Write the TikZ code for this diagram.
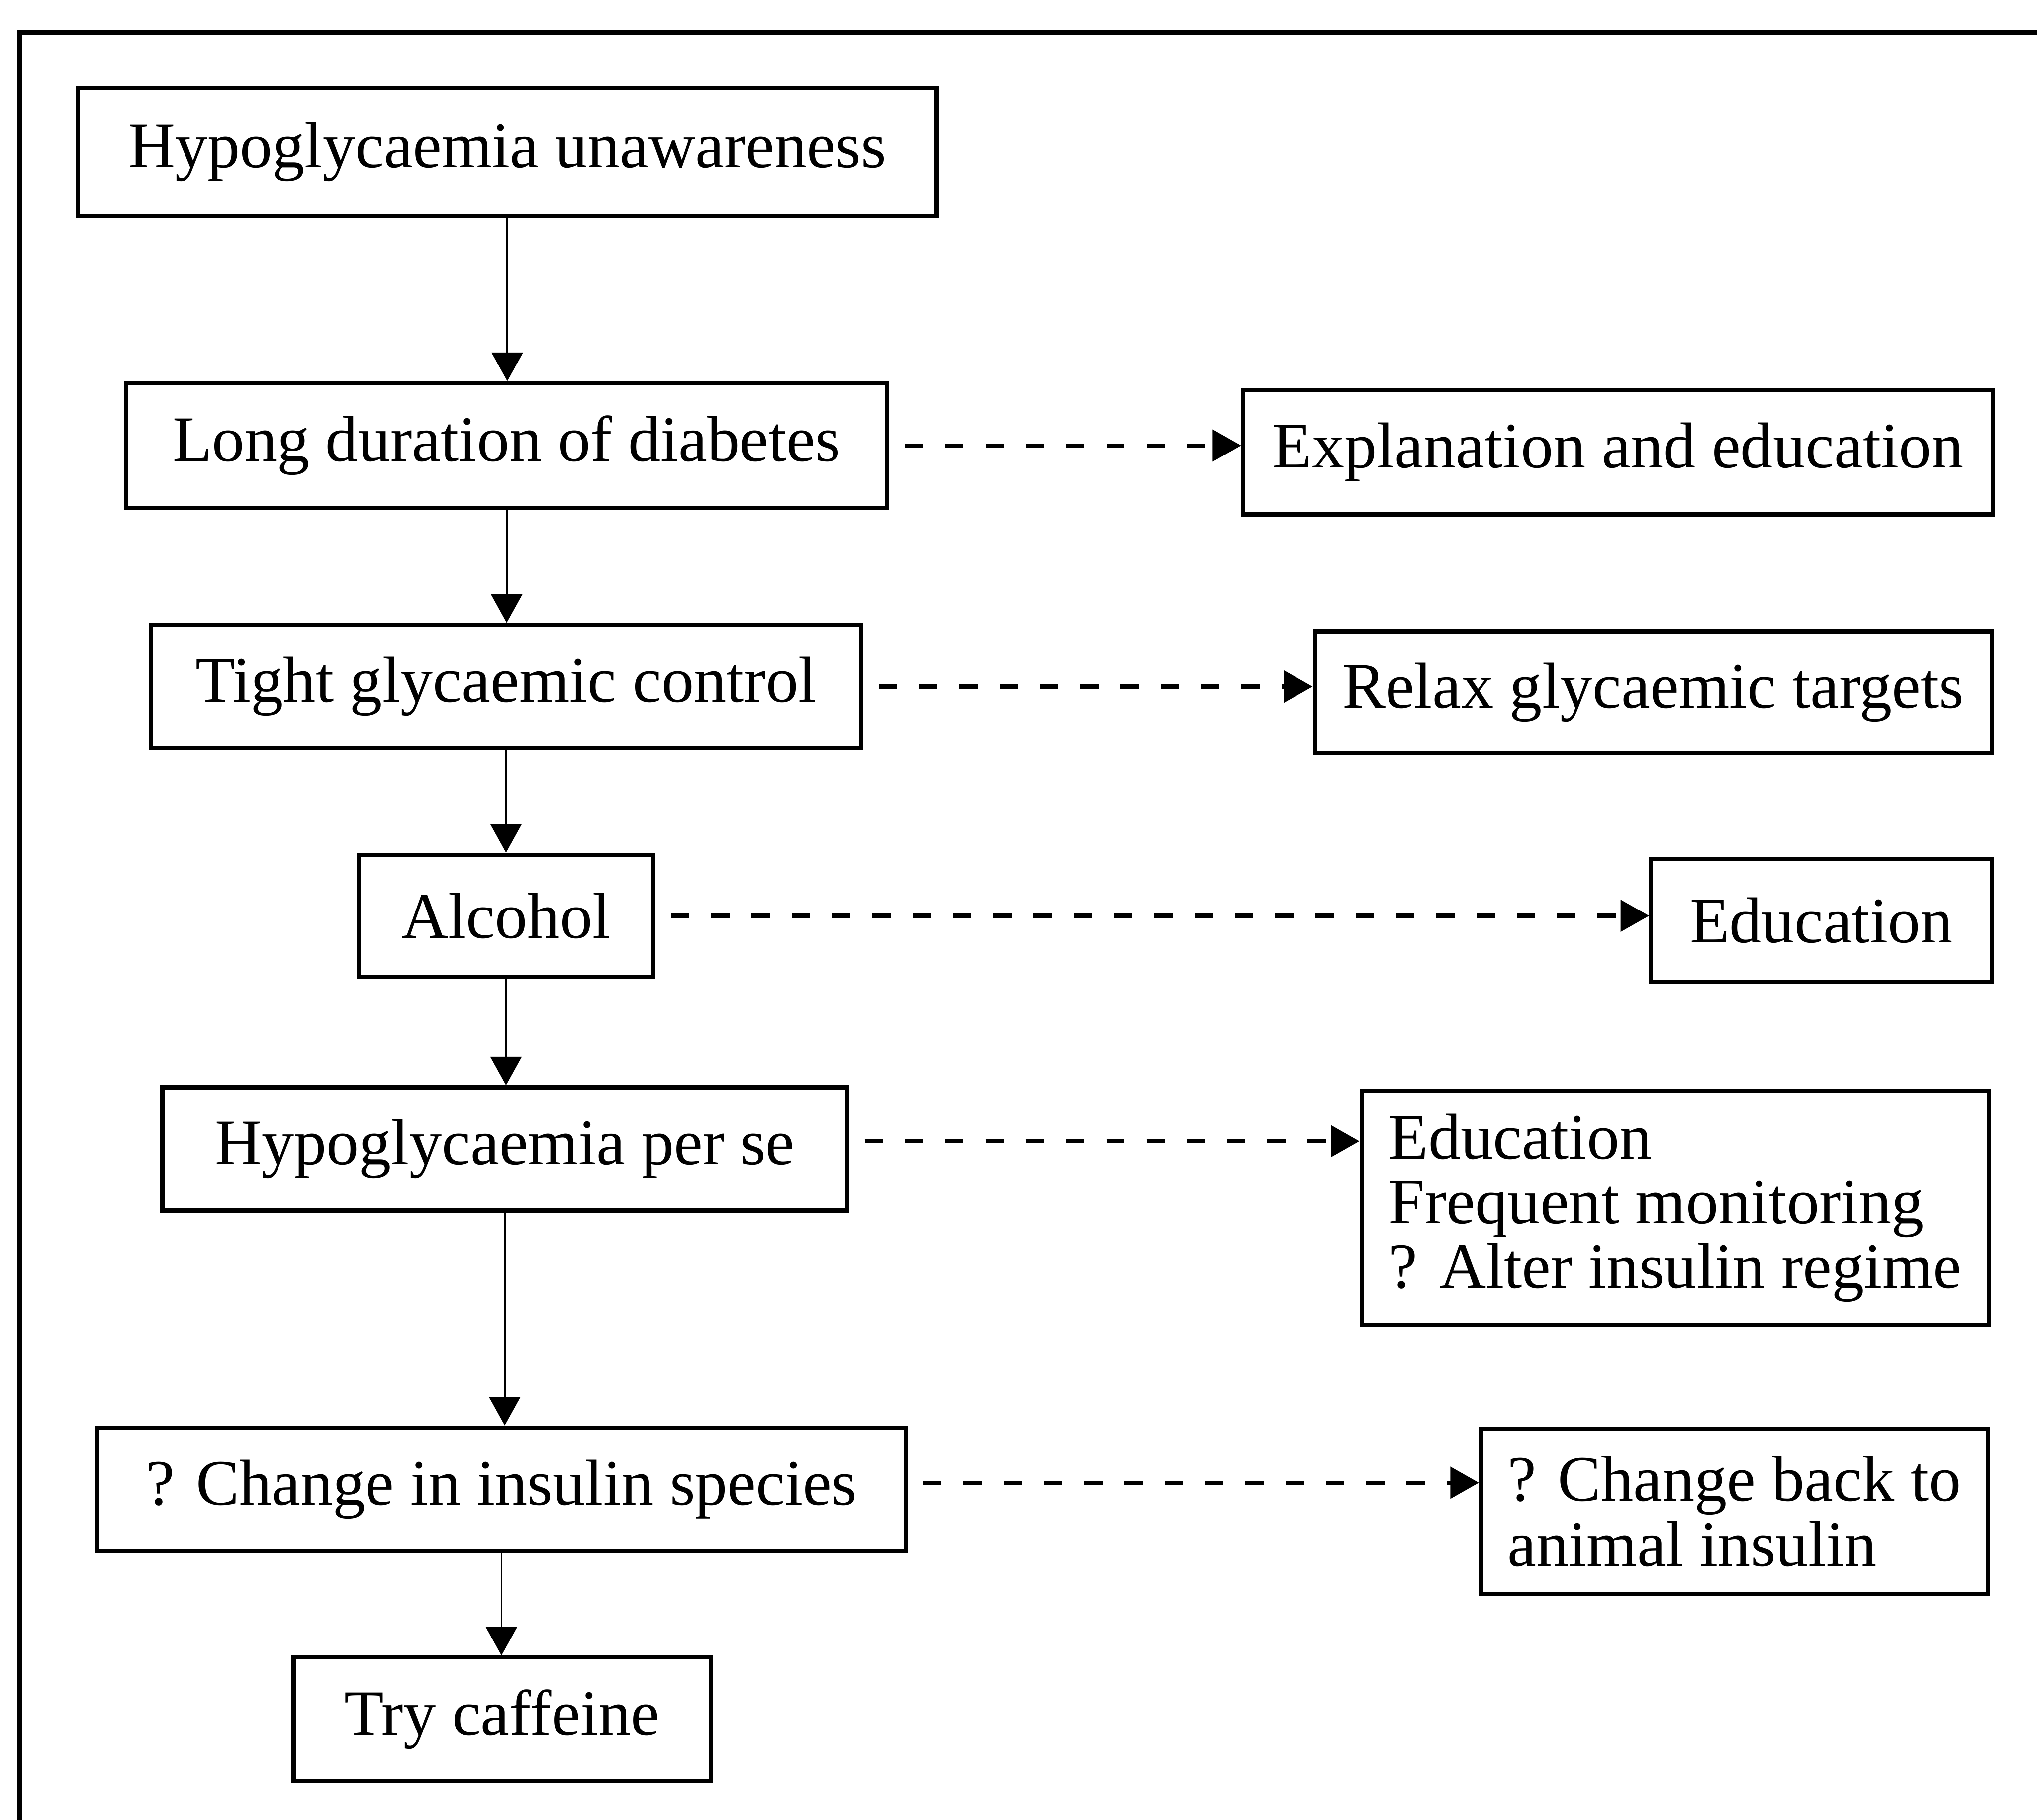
\documentclass[tikz,border=0pt]{standalone}
\usepackage{fontspec}
\setmainfont{Liberation Serif}
\usetikzlibrary{arrows.meta}
\begin{document}
\begin{tikzpicture}[
  x=1cm, y=1cm,
  every node/.style={font=\fontsize{14.2pt}{14.2pt}\selectfont},
  box/.style={draw, line width=0.9pt, inner sep=0pt, align=center},
  flow/.style={line width=0.4pt, -{Triangle[length=0.22cm, width=0.24cm]}},
  remedy/.style={line width=0.9pt, dash pattern=on 0.14cm off 0.17cm,
    shorten <=0.12cm, -{Triangle[length=0.22cm, width=0.24cm]}}
]
\useasboundingbox (0,0) rectangle (15.68,-14.01);

% outer frame (top and left edges)
\draw[line width=1.2pt] (0.15,-14.01) -- (0.15,-0.25) -- (15.68,-0.25);

% causes (left column)
\node[box, minimum width=6.61cm, minimum height=0.99cm] (unaware) at (3.905,-1.17) {Hypoglycaemia unawareness};
\node[box, minimum width=5.86cm, minimum height=0.96cm] (duration) at (3.90,-3.43) {Long duration of diabetes};
\node[box, minimum width=5.47cm, minimum height=0.95cm] (tight) at (3.895,-5.285) {Tight glycaemic control};
\node[box, minimum width=2.27cm, minimum height=0.94cm] (alcohol) at (3.895,-7.05) {Alcohol};
\node[box, minimum width=5.27cm, minimum height=0.95cm] (perse) at (3.885,-8.845) {Hypoglycaemia per se};
\node[box, minimum width=6.22cm, minimum height=0.95cm] (species) at (3.86,-11.465) {? Change in insulin species};
\node[box, minimum width=3.21cm, minimum height=0.95cm] (caffeine) at (3.865,-13.235) {Try caffeine};

% remedies (right column)
\node[box, minimum width=5.77cm, minimum height=0.96cm] (explain) at (12.455,-3.48) {Explanation and education};
\node[box, minimum width=5.21cm, minimum height=0.94cm] (relax) at (12.725,-5.33) {Relax glycaemic targets};
\node[box, minimum width=2.62cm, minimum height=0.95cm] (educ) at (14.02,-7.085) {Education};
\node[box, align=left, minimum width=4.83cm, minimum height=1.80cm] (monitor) at (12.895,-9.30) {Education\\Frequent monitoring\\? Alter insulin regime};
\node[box, align=left, minimum width=3.90cm, minimum height=1.27cm] (animal) at (13.35,-11.635) {? Change back to\\animal insulin};

% main sequence
\draw[flow] (unaware.south) -- (unaware.south |- duration.north);
\draw[flow] (duration.south) -- (duration.south |- tight.north);
\draw[flow] (tight.south) -- (tight.south |- alcohol.north);
\draw[flow] (alcohol.south) -- (alcohol.south |- perse.north);
\draw[flow] (perse.south) -- (perse.south |- species.north);
\draw[flow] (species.south) -- (species.south |- caffeine.north);

% cause -> remedy
\draw[remedy] (duration.east) -- (duration.east -| explain.west);
\draw[remedy] (tight.east) -- (tight.east -| relax.west);
\draw[remedy] (alcohol.east) -- (alcohol.east -| educ.west);
\draw[remedy] ([yshift=0.06cm]perse.east) -- ([yshift=0.06cm]perse.east -| monitor.west);
\draw[remedy] ([yshift=0.05cm]species.east) -- ([yshift=0.05cm]species.east -| animal.west);
\end{tikzpicture}
\end{document}
